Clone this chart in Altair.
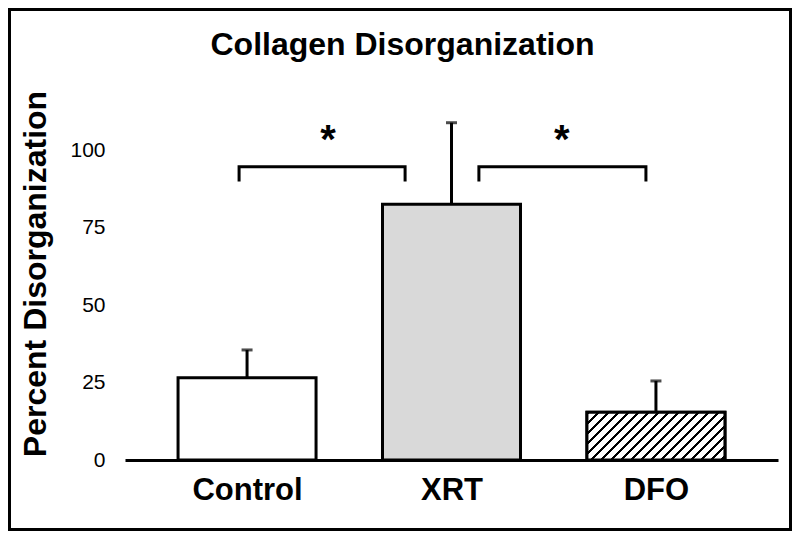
import altair as alt
import pandas as pd

# ---- data ----
cats = ["Control", "XRT", "DFO"]
means = [26.5, 82.5, 15.4]
errs = [9.0, 26.3, 10.1]
fills = ["white", "#d9d9d9", "white"]

# significance brackets (x in category-index units, y in percent)
bracket_x1 = [-0.039, 1.134]
bracket_x2 = [0.773, 1.951]
bracket_top = 94.6
bracket_drop = 89.8
star_x = [0.396, 1.540]
star_y = [99.0, 99.0]

# ---- layout constants ----
W, H = 653, 341
YMAX = 110
FONT = "Liberation Sans"
HALF = 0.3375  # half bar width in index units

df = pd.DataFrame({
    "group": cats,
    "idx": list(range(len(cats))),
    "mean": means,
    "top": [m + e for m, e in zip(means, errs)],
})

brows = []
for b, (a, c) in enumerate(zip(bracket_x1, bracket_x2)):
    for o, (xx, yy) in enumerate([(a, bracket_drop), (a, bracket_top), (c, bracket_top), (c, bracket_drop)]):
        brows.append({"b": b, "o": o, "bx": xx, "by": yy})
bdf = pd.DataFrame(brows)
sdf = pd.DataFrame({"sx": star_x, "sy": star_y, "t": ["*", "*"]})

# hatch gradient for the DFO bar (45 degree stripes)
step_px = 204.5
bw = 2 * HALF * step_px
bh = means[2] / YMAX * H
k = bh / bw
gx = (1 + k) / (1 + k * k)
gy = k * gx
diag = bw + bh
period = 10.0 / diag
blackfrac = 0.36
stops = []
pos = 0.0
while pos < 1.0:
    b_end = min(pos + period * blackfrac, 1.0)
    nxt = min(pos + period, 1.0)
    stops += [{"offset": pos, "color": "black"}, {"offset": b_end, "color": "black"},
              {"offset": b_end, "color": "white"}, {"offset": nxt, "color": "white"}]
    pos += period
hatch_fill = {"gradient": "linear", "x1": 0, "y1": 0, "x2": gx, "y2": gy, "stops": stops}

x_scale = alt.Scale(domain=[-0.597, 2.597], nice=False, zero=False)
y_scale = alt.Scale(domain=[0, YMAX], nice=False)

label_expr = "[" + ",".join("'%s'" % c for c in cats) + "][datum.value]"
x_axis = alt.Axis(values=[0, 1, 2], labelExpr=label_expr, ticks=False, tickSize=0, grid=False,
                  domainColor="black", domainWidth=3, labelFont=FONT, labelFontSize=31,
                  labelFontWeight="bold", labelColor="black", labelPadding=15, title=None)
y_axis = alt.Axis(values=[0, 25, 50, 75, 100], ticks=False, tickSize=0, domain=False, grid=False,
                  labelFont=FONT, labelFontSize=21, labelColor="black", labelPadding=20,
                  title="Percent Disorganization", titleFont=FONT, titleFontSize=32,
                  titleFontWeight="bold", titleColor="black", titleX=-90, titleY=154.5,
                  titleAngle=270, titleBaseline="middle", titleAlign="center")

base = alt.Chart(df)

bars = base.transform_calculate(
    x0="datum.idx - %f" % HALF, x1="datum.idx + %f" % HALF
).mark_bar(stroke="black", strokeWidth=3).encode(
    x=alt.X("x0:Q", scale=x_scale, axis=x_axis),
    x2="x1:Q",
    y=alt.Y("mean:Q", scale=y_scale, axis=y_axis),
    y2=alt.datum(0),
    fill=alt.Fill("group:N", scale=alt.Scale(domain=cats, range=fills), legend=None),
)

hatch = base.transform_filter(alt.datum.group == "DFO").transform_calculate(
    x0="datum.idx - %f" % HALF, x1="datum.idx + %f" % HALF
).mark_bar(fill=hatch_fill, stroke="black", strokeWidth=3).encode(
    x=alt.X("x0:Q", scale=x_scale, axis=x_axis),
    x2="x1:Q",
    y=alt.Y("mean:Q", scale=y_scale, axis=y_axis),
    y2=alt.datum(0),
)

errbars = base.mark_rule(color="black", strokeWidth=3).encode(
    x=alt.X("idx:Q", scale=x_scale, axis=x_axis),
    y=alt.Y("mean:Q", scale=y_scale, axis=y_axis),
    y2="top:Q",
)

caps = base.mark_tick(orient="horizontal", size=11, thickness=3, color="black").encode(
    x=alt.X("idx:Q", scale=x_scale, axis=x_axis),
    y=alt.Y("top:Q", scale=y_scale, axis=y_axis),
)

brackets = alt.Chart(bdf).mark_line(color="black", strokeWidth=3).encode(
    x=alt.X("bx:Q", scale=x_scale, axis=x_axis),
    y=alt.Y("by:Q", scale=y_scale, axis=y_axis),
    detail="b:N",
    order="o:Q",
)

stars = alt.Chart(sdf).mark_text(font=FONT, fontSize=40, fontWeight="bold", color="black",
                                 baseline="alphabetic").encode(
    x=alt.X("sx:Q", scale=x_scale, axis=x_axis),
    y=alt.Y("sy:Q", scale=y_scale, axis=y_axis),
    text="t:N",
)

frame = alt.Chart(alt.Data(values=[{"a": 1}])).mark_rect(
    fill="white", fillOpacity=0, stroke="black", strokeWidth=3
).encode(
    x=alt.value(-115.5), x2=alt.value(W + 12.5),
    y=alt.value(-109.5), y2=alt.value(H + 69.5),
)

chart = alt.layer(frame, bars, hatch, errbars, caps, brackets, stars).properties(
    width=W, height=H,
    title=alt.TitleParams("Collagen Disorganization", font=FONT, fontSize=32, fontWeight="bold",
                          color="black", offset=-53.5, anchor="middle", dx=-49),
    padding={"left": 117, "top": 111, "right": 14, "bottom": 72},
    autosize=alt.AutoSizeParams(type="none"),
    background="white",
).configure_view(stroke="transparent", strokeWidth=0)

chart.save("out.html", embed_options={"renderer": "svg", "actions": False})
